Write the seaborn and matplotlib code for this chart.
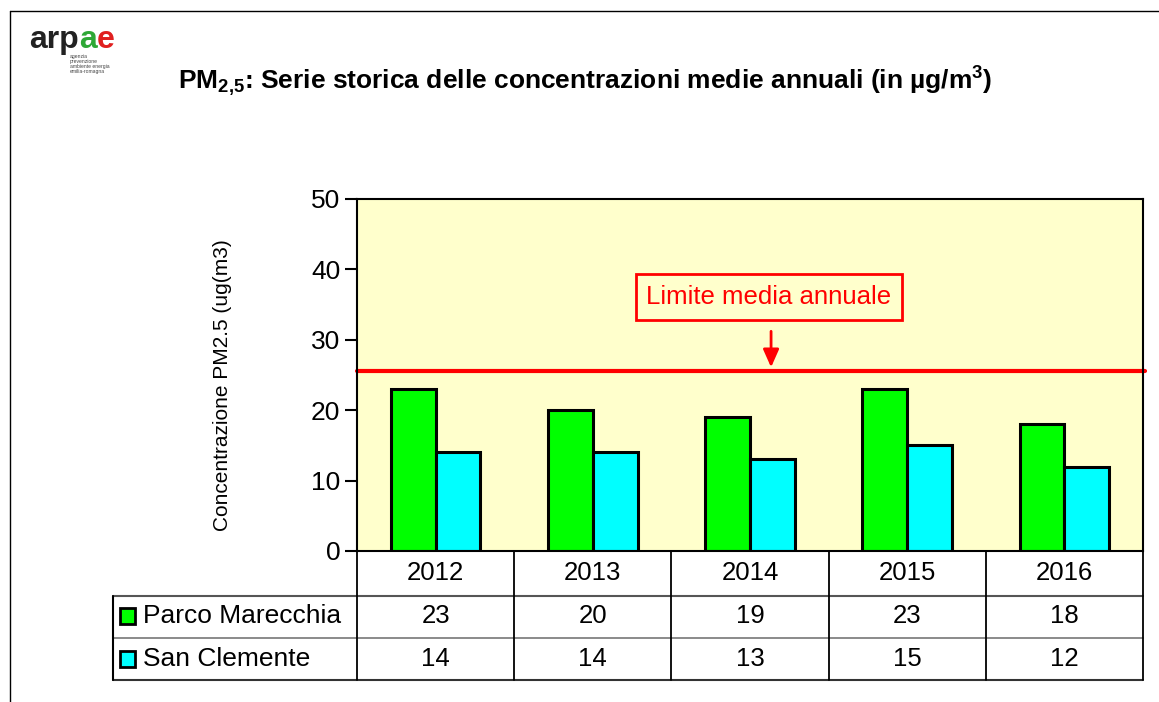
import pandas as pd
import seaborn as sns
import matplotlib.pyplot as plt
from matplotlib.lines import Line2D
from matplotlib.patches import Rectangle

# dati
anni = ["2012", "2013", "2014", "2015", "2016"]
stazioni = ["Parco Marecchia", "San Clemente"]
parco_marecchia = [23, 20, 19, 23, 18]
san_clemente = [14, 14, 13, 15, 12]
limite = 25.5
colori = ["#00FF00", "#00FFFF"]

df = pd.DataFrame({
    "anno": anni * 2,
    "stazione": [stazioni[0]] * 5 + [stazioni[1]] * 5,
    "valore": parco_marecchia + san_clemente,
})

sns.set_theme(style="white")
plt.rcParams["font.family"] = ["Liberation Sans", "DejaVu Sans"]
plt.rcParams["mathtext.default"] = "regular"
for k in ["text.color", "axes.labelcolor", "xtick.color", "ytick.color"]:
    plt.rcParams[k] = "black"

fig = plt.figure(figsize=(11.59, 7.02), dpi=100)
ax = fig.add_axes([357 / 1159, 151 / 702, 786 / 1159, 352 / 702])
ax.set_facecolor("#FFFFCC")

sns.barplot(data=df, x="anno", y="valore", hue="stazione", palette=colori, saturation=1,
            width=0.57, gap=0, edgecolor="black", linewidth=2.2, legend=False, ax=ax)

ax.set_xlim(-0.5, 4.5)
ax.set_ylim(0, 50)
ax.set_yticks([0, 10, 20, 30, 40, 50])
ax.tick_params(axis="y", left=True, length=9, width=1.5, labelsize=19, pad=3)
ax.set_xticks([])
ax.set_xlabel("")
ax.set_ylabel("")
for s in ax.spines.values():
    s.set_color("black")
    s.set_linewidth(1.5)

# linea del limite e annotazione
ax.axhline(limite, color="red", lw=3, clip_on=False, xmax=1.003)
ax.text(2.12, 36.1, "Limite media annuale", color="red", fontsize=18.5, ha="center", va="center",
        bbox=dict(boxstyle="square,pad=0.42", fc="none", ec="red", lw=2))
ax.annotate("", xy=(2.134, limite + 0.2), xytext=(2.134, 31.6),
            arrowprops=dict(arrowstyle="-|>,head_length=0.9,head_width=0.4", color="red", lw=2))

# tabella dati sotto il grafico
tr = ax.get_xaxis_transform()
h = 352
righe = [-45 / h, -87 / h, -129 / h]
x_sx = -2.052
ax.plot([x_sx, 4.5], [righe[0]] * 2, transform=tr, color="#555555", lw=1.5, clip_on=False)
ax.plot([x_sx, 4.5], [righe[1]] * 2, transform=tr, color="#777777", lw=1.2, clip_on=False)
ax.plot([x_sx, 4.5], [righe[2]] * 2, transform=tr, color="#333333", lw=1.5, clip_on=False)
for xv in [-0.5, 0.5, 1.5, 2.5, 3.5, 4.5]:
    ax.plot([xv, xv], [0, righe[2]], transform=tr, color="black", lw=1.3, clip_on=False)
ax.plot([x_sx, x_sx], [righe[0], righe[2]], transform=tr, color="black", lw=1.5, clip_on=False)

y_testo = [-22 / h, -65 / h, -108 / h]
for i, anno in enumerate(anni):
    ax.text(i, y_testo[0], anno, transform=tr, ha="center", va="center", fontsize=18.5)
    ax.text(i, y_testo[1], str(parco_marecchia[i]), transform=tr, ha="center", va="center", fontsize=18.5)
    ax.text(i, y_testo[2], str(san_clemente[i]), transform=tr, ha="center", va="center", fontsize=18.5)
for j, nome in enumerate(stazioni):
    yy = y_testo[j + 1]
    ax.add_patch(Rectangle((-2.01, yy - 0.022), 0.095, 0.044, transform=tr, fc=colori[j],
                           ec="black", lw=2, clip_on=False))
    ax.text(-1.86, yy, nome, transform=tr, ha="left", va="center", fontsize=19)

# titolo, etichetta asse e logo
fig.text(585 / 1159, 1 - 82 / 702,
         r"PM$_{2{,}5}$: Serie storica delle concentrazioni medie annuali (in µg/m$^{3}$)",
         ha="center", va="center", fontsize=19, fontweight="bold")
fig.text(222 / 1159, 1 - 385 / 702, "Concentrazione PM2.5 (ug(m3)", rotation=90,
         ha="center", va="center", fontsize=15)

t1 = fig.text(29 / 1159, 1 - 48 / 702, "arp", fontsize=23, fontweight="bold", color="#222222",
              va="baseline")
t2 = ax.annotate("a", xy=(1, 0), xycoords=t1, va="bottom", fontsize=23, fontweight="bold",
                 color="#2EA836", annotation_clip=False)
ax.annotate("e", xy=(1, 0), xycoords=t2, va="bottom", fontsize=23, fontweight="bold",
            color="#E02020", annotation_clip=False)
fig.text(70 / 1159, 1 - 64 / 702, "agenzia\nprevenzione\nambiente energia\nemilia-romagna",
         fontsize=3.6, color="#444444", va="center", linespacing=1.0)

# cornice della diapositiva
fig.add_artist(Line2D([10 / 1159, 1], [1 - 11 / 702] * 2, color="black", lw=1))
fig.add_artist(Line2D([10 / 1159] * 2, [0, 1 - 11 / 702], color="black", lw=1))

fig.savefig("out.png", dpi=100, facecolor="white")
